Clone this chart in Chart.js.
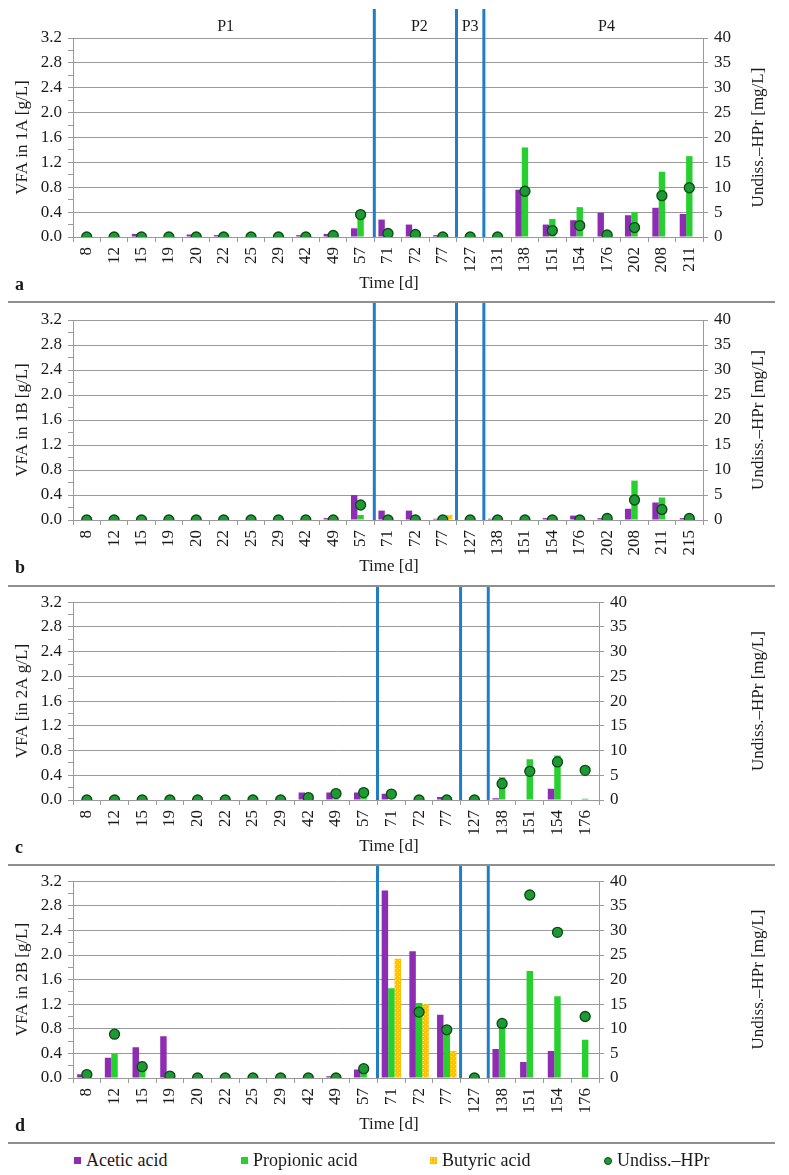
<!DOCTYPE html>
<html><head><meta charset="utf-8">
<script src="https://cdn.jsdelivr.net/npm/chart.js@4.4.1/dist/chart.umd.min.js"></script>
<style>
html,body{margin:0;padding:0;background:#fff;}
#wrap{position:relative;width:789px;height:1175px;overflow:hidden;font-family:"Liberation Serif","Times New Roman",serif;color:#1a1a1a;}
canvas{position:absolute;left:0;}
.sep{position:absolute;left:8px;width:767px;height:2px;background:#8f8f8f;}
.leg{position:absolute;top:1149px;font-size:18px;line-height:22px;white-space:nowrap;}
.sw{display:inline-block;width:7px;height:7px;margin-right:5px;vertical-align:middle;position:relative;top:-1px;}
</style></head>
<body>
<div id="wrap">
  <canvas id="cA" width="789" height="302" style="top:0px"></canvas>
  <canvas id="cB" width="789" height="284" style="top:302px"></canvas>
  <canvas id="cC" width="789" height="279" style="top:586px"></canvas>
  <canvas id="cD" width="789" height="278" style="top:865px"></canvas>
  <div class="sep" style="top:301px"></div>
  <div class="sep" style="top:585px"></div>
  <div class="sep" style="top:864px"></div>
  <div class="sep" style="top:1142px"></div>
  <div class="leg" style="left:74px"><span class="sw" style="background:#8E2DB3"></span>Acetic acid</div>
  <div class="leg" style="left:241px"><span class="sw" style="background:#27D02E"></span>Propionic acid</div>
  <div class="leg" style="left:430px"><span class="sw" style="background-color:#FFC000;background-image:radial-gradient(#fff6d0 35%,transparent 40%);background-size:3px 3px"></span>Butyric acid</div>
  <div class="leg" style="left:604px"><span class="sw" style="background:#1E9A34;border:1px solid #0B4A14;border-radius:50%;width:6px;height:6px"></span>Undiss.–HPr</div>
</div>
<script>
// ---------- data ----------
const catsA = ['8','12','15','19','20','22','25','29','42','49','57','71','72','77','127','131','138','151','154','176','202','208','211'];
const aceticA = [0,0,0.05,0,0.04,0.03,0,0,0.03,0.05,0.14,0.28,0.2,0.03,0,0,0.76,0.20,0.27,0.39,0.35,0.47,0.37];
const propA   = [0,0,0,0,0,0,0,0,0,0,0.37,0.08,0,0,0,0,1.44,0.29,0.48,0.01,0.40,1.05,1.30];
const butA    = [0,0,0,0,0,0,0,0,0,0,0,0,0,0,0,0,0,0,0,0,0,0,0];
const hprA    = [0,0,0,0,0,0,0,0,0,0.3,4.5,0.7,0.5,0,0,0,9.2,1.3,2.3,0.4,1.9,8.3,9.9];

const catsB = ['8','12','15','19','20','22','25','29','42','49','57','71','72','77','127','138','151','154','176','202','208','211','215'];
const aceticB = [0,0,0,0,0,0,0,0,0,0.03,0.40,0.15,0.15,0.02,0,0.02,0,0.03,0.07,0.03,0.18,0.28,0.03];
const propB   = [0,0,0,0,0,0,0,0,0,0,0.08,0,0,0.02,0,0,0,0,0,0.02,0.63,0.36,0.05];
const butB    = [0,0,0,0,0,0,0,0,0,0,0,0,0,0.08,0,0,0,0,0,0,0,0,0];
const hprB    = [0,0,0,0,0,0,0,0,0,0,3.0,0,0,0,0,0,0,0,0,0.3,4.0,2.1,0.3];

const catsC = ['8','12','15','19','20','22','25','29','42','49','57','71','72','77','127','138','151','154','176'];
const aceticC = [0,0,0,0,0,0,0,0,0.12,0.12,0.12,0.10,0,0.05,0,0.03,0,0.18,0];
const propC   = [0,0,0,0,0,0,0,0,0,0.02,0.06,0,0,0,0,0.37,0.66,0.72,0.02];
const butC    = [0,0,0,0,0,0,0,0,0,0,0,0,0,0,0,0,0,0,0];
const hprC    = [0,0,0,0,0,0,0,0,0.5,1.3,1.5,1.2,0,0,0,3.3,5.8,7.7,6.0];

const catsD = ['8','12','15','19','20','22','25','29','42','49','57','71','72','77','127','138','151','154','176'];
const aceticD = [0.06,0.33,0.50,0.68,0,0,0,0,0,0.03,0.14,3.05,2.06,1.03,0,0.47,0.26,0.44,0];
const propD   = [0,0.40,0.27,0,0,0,0,0,0,0,0.13,1.46,1.22,0.82,0,0.88,1.74,1.33,0.62];
const butD    = [0,0,0,0,0,0,0,0,0,0,0,1.94,1.20,0.44,0,0,0,0,0];
const hprD    = [0.7,8.9,2.3,0.4,0,0,0,0,0,0,1.9,null,13.4,9.8,0,11.1,37.2,29.6,12.5];

const phaseBreaks = ['57','77','127'];
const phaseNames = ['P1','P2','P3','P4'];

// ---------- style ----------
const FONT = '"Liberation Serif","Times New Roman",serif';
const TXT = '#1a1a1a', GRID = '#9a9a9a', AXIS = '#9a9a9a';
const PURPLE = '#8E2DB3', GREEN = '#27D02E', BLUE = '#1F7EC5';

function makePattern(ctx){
  const t = document.createElement('canvas'); t.width = 4; t.height = 4;
  const g = t.getContext('2d');
  g.fillStyle = '#FFC000'; g.fillRect(0,0,4,4);
  g.fillStyle = '#FFF2C0'; g.fillRect(1,1,1,1); g.fillRect(3,3,1,1);
  return ctx.createPattern(t,'repeat');
}

const panelDecor = {
  id:'panelDecor',
  afterDraw(chart, args, o){
    const {ctx, chartArea, scales:{x}} = chart;
    const labels = chart.data.labels;
    ctx.save();
    const bx = o.breaks.map(l => { const i = labels.indexOf(l); return (x.getPixelForValue(i)+x.getPixelForValue(i+1))/2; });
    ctx.strokeStyle = BLUE; ctx.lineWidth = 3;
    bx.forEach(px => { ctx.beginPath(); ctx.moveTo(px, o.lineTop); ctx.lineTo(px, chartArea.bottom); ctx.stroke(); });
    ctx.fillStyle = TXT; ctx.textBaseline = 'middle'; ctx.textAlign = 'center';
    if (o.phases){
      ctx.font = '16px ' + FONT;
      const b = [chartArea.left, ...bx, chartArea.right];
      o.phases.forEach((p,i) => ctx.fillText(p, (b[i]+b[i+1])/2 + o.phaseNudge[i], o.phaseY));
    }
    ctx.font = '17px ' + FONT;
    ctx.fillText('Time [d]', o.titleX, chartArea.bottom + 47);
    ctx.font = 'bold 18px ' + FONT; ctx.textAlign = 'left';
    ctx.fillText(o.letter, 15, chartArea.bottom + 48);
    ctx.translate(o.rightTitleX, (chartArea.top+chartArea.bottom)/2);
    ctx.rotate(-Math.PI/2);
    ctx.font = '17px ' + FONT; ctx.textAlign = 'center';
    ctx.fillText(o.rightTitle, 0, 0);
    ctx.restore();
  }
};

function makePanel(id, cfg){
  const ctx = document.getElementById(id).getContext('2d');
  const pat = makePattern(ctx);
  const tf = {family:FONT, size:17};
  return new Chart(ctx, {
    data:{
      labels: cfg.cats,
      datasets:[
        {type:'line', label:'Undiss.–HPr', data:cfg.hpr, yAxisID:'y1', showLine:false, order:0,
         pointRadius:5, pointHoverRadius:5, pointBackgroundColor:'#1E9A34', pointBorderColor:'#0B4A14', pointBorderWidth:1.3},
        {type:'bar', label:'Acetic acid', data:cfg.acetic, yAxisID:'y', order:1, backgroundColor:PURPLE},
        {type:'bar', label:'Propionic acid', data:cfg.prop, yAxisID:'y', order:1, backgroundColor:GREEN},
        {type:'bar', label:'Butyric acid', data:cfg.but, yAxisID:'y', order:1, backgroundColor:pat}
      ]
    },
    options:{
      responsive:false, animation:false, events:[],
      layout:{padding:{top:cfg.top, left:0, right:0, bottom:0}},
      datasets:{bar:{categoryPercentage:0.7, barPercentage:1.0}},
      plugins:{legend:{display:false}, tooltip:{enabled:false},
        panelDecor:{breaks:phaseBreaks, phases:cfg.phases, phaseNudge:[2,4,0,13], phaseY:27, lineTop:cfg.lineTop, titleX:389, letter:cfg.letter,
                    rightTitle:'Undiss.–HPr [mg/L]', rightTitleX:759}},
      scales:{
        x:{type:'category', offset:true,
           grid:{offset:true, drawOnChartArea:false, color:GRID, tickLength:5},
           border:{color:AXIS},
           ticks:{font:tf, color:TXT, autoSkip:false, maxRotation:90, minRotation:90, padding:5},
           afterFit:s => { s.height = cfg.xh; }},
        y:{position:'left', min:0, max:3.2,
           grid:{color:c => (c.tick && Math.round(c.tick.value*10)%4===0) ? GRID : 'rgba(0,0,0,0)', tickColor:GRID, tickLength:5},
           border:{color:AXIS},
           ticks:{stepSize:0.2, autoSkip:false, font:tf, color:TXT, padding:6,
                  callback:v => (Math.round(v*10)%4===0) ? v.toFixed(1) : ''},
           title:{display:true, text:cfg.ytitle, font:tf, color:TXT, padding:{top:12, bottom:0}},
           afterFit:s => { s.width = 73; }},
        y1:{position:'right', min:0, max:40,
           grid:{drawOnChartArea:false, color:GRID, tickLength:5},
           border:{color:AXIS},
           ticks:{stepSize:5, font:tf, color:TXT, padding:6},
           afterFit:s => { s.width = cfg.rw; }}
      }
    },
    plugins:[panelDecor]
  });
}

makePanel('cA', {cats:catsA, acetic:aceticA, prop:propA, but:butA, hpr:hprA, top:38, xh:65, rw:86, lineTop:9, letter:'a', ytitle:'VFA in 1A [g/L]', phases:phaseNames});
makePanel('cB', {cats:catsB, acetic:aceticB, prop:propB, but:butB, hpr:hprB, top:18, xh:66, rw:86, lineTop:0, letter:'b', ytitle:'VFA in 1B [g/L]'});
makePanel('cC', {cats:catsC, acetic:aceticC, prop:propC, but:butC, hpr:hprC, top:15, xh:65, rw:190, lineTop:0, letter:'c', ytitle:'VFA [in 2A g/L]'});
makePanel('cD', {cats:catsD, acetic:aceticD, prop:propD, but:butD, hpr:hprD, top:13, xh:65, rw:190, lineTop:0, letter:'d', ytitle:'VFA in 2B [g/L]'});
</script>
</body></html>
